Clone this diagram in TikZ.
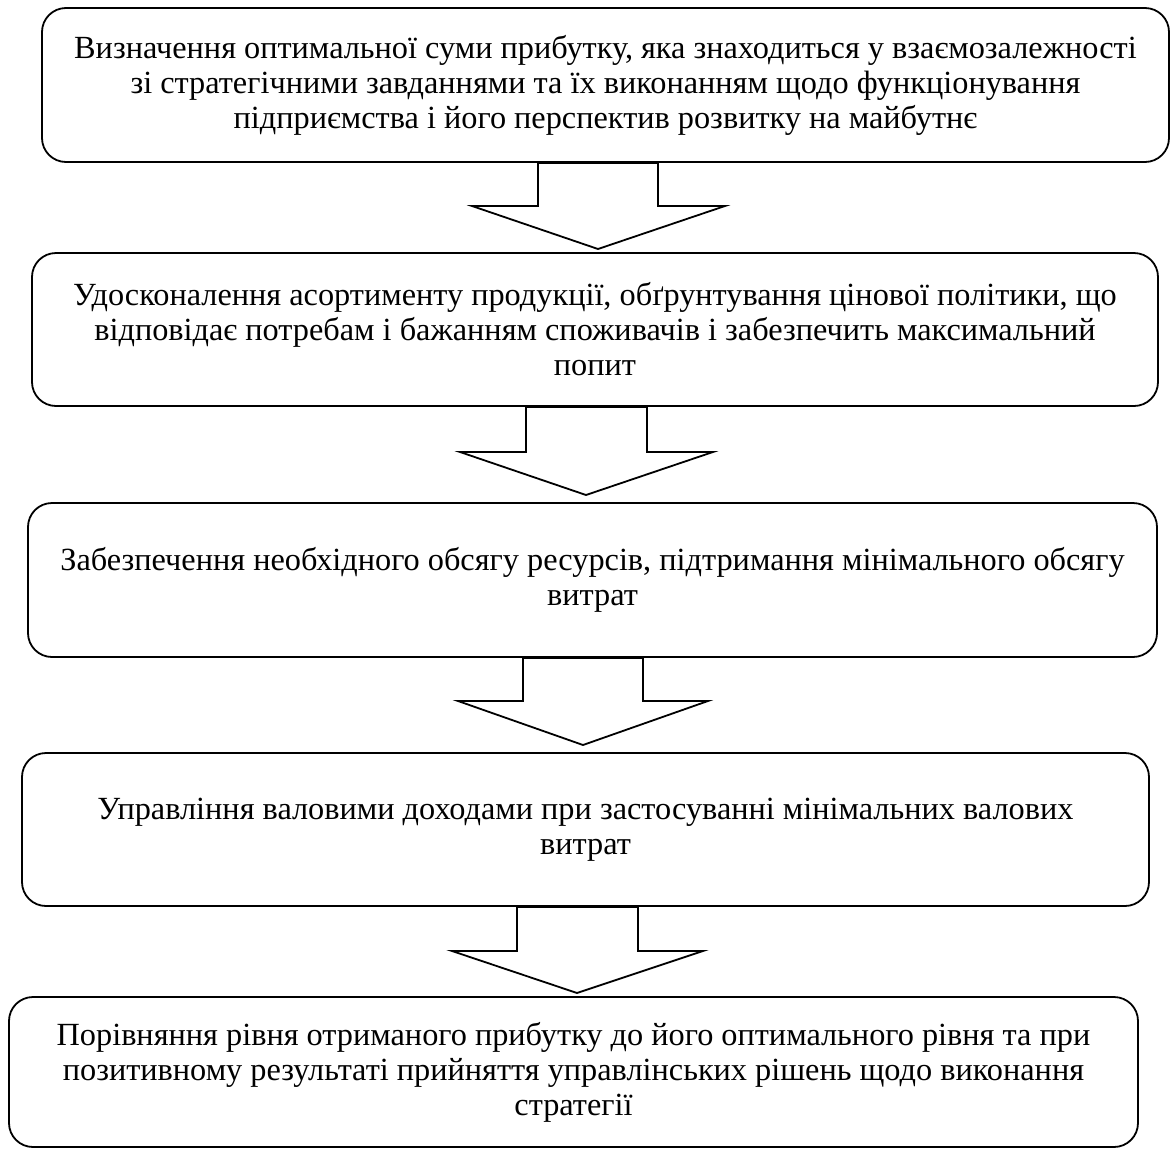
\documentclass[tikz,border=0pt]{standalone}
\usepackage{fontspec}
\setmainfont{Liberation Serif}
\begin{document}
\begin{tikzpicture}[x=1pt,y=-1pt,
  stagebox/.style={draw=black,line width=1.8pt,rounded corners=24pt,fill=white,
    inner sep=0pt,align=center,font=\fontsize{32.3}{35}\selectfont},
  blockarrow/.style={draw=black,line width=1.8pt,fill=white,line join=miter}]
\useasboundingbox (0,0) rectangle (1171,1149);
\node[stagebox,minimum width=1127pt,minimum height=154pt] (b1) at (605.5,85)
  {Визначення оптимальної суми прибутку, яка знаходиться у взаємозалежності\\
   зі стратегічними завданнями та їх виконанням щодо функціонування\\
   підприємства і його перспектив розвитку на майбутнє};
\node[stagebox,minimum width=1126pt,minimum height=153pt] (b2) at (595,329.5)
  {Удосконалення асортименту продукції, обґрунтування цінової політики, що\\
   відповідає потребам і бажанням споживачів і забезпечить максимальний\\
   попит};
\node[stagebox,minimum width=1129pt,minimum height=154pt] (b3) at (592.5,580)
  {Забезпечення необхідного обсягу ресурсів, підтримання мінімального обсягу\\
   витрат};
\node[stagebox,minimum width=1127pt,minimum height=153pt] (b4) at (585.5,829.5)
  {Управління валовими доходами при застосуванні мінімальних валових\\
   витрат};
\node[stagebox,minimum width=1129pt,minimum height=150pt] (b5) at (573.5,1072)
  {Порівняння рівня отриманого прибутку до його оптимального рівня та при\\
   позитивному результаті прийняття управлінських рішень щодо виконання\\
   стратегії};
% block arrows
\draw[blockarrow] (538,0 |- b1.south) -- (538,206) -- (472,206) -- (598,249)
  -- (725,206) -- (658,206) -- (658,0 |- b1.south) -- cycle;
\draw[blockarrow] (526,0 |- b2.south) -- (526,452) -- (460,452) -- (586,495)
  -- (713,452) -- (647,452) -- (647,0 |- b2.south) -- cycle;
\draw[blockarrow] (523,0 |- b3.south) -- (523,701) -- (458,701) -- (583,745)
  -- (708,701) -- (643,701) -- (643,0 |- b3.south) -- cycle;
\draw[blockarrow] (517,0 |- b4.south) -- (517,951) -- (452,951) -- (577,993)
  -- (703,951) -- (638,951) -- (638,0 |- b4.south) -- cycle;
\end{tikzpicture}
\end{document}
